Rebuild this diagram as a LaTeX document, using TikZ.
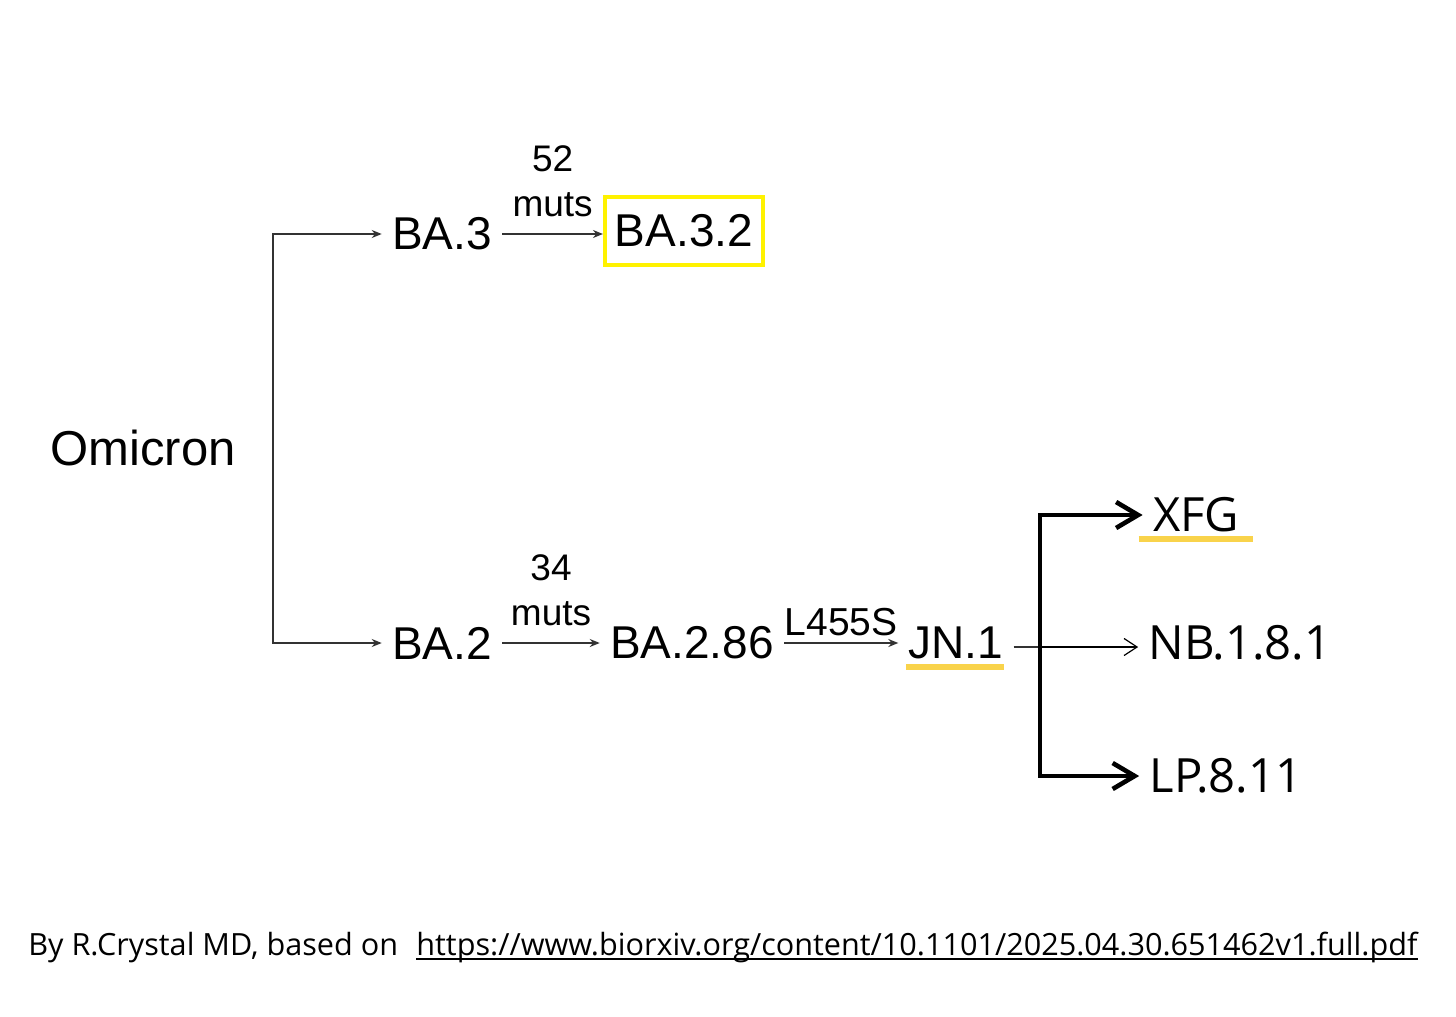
\documentclass[tikz,border=0pt]{standalone}
\usepackage{fontspec}
\setmainfont{Liberation Sans}
\newfontfamily\canva{Open Sans}
\usetikzlibrary{arrows.meta,positioning}
\definecolor{boxy}{HTML}{FFF200}
\definecolor{mark}{HTML}{F9D34B}
\definecolor{ln}{HTML}{333333}

\begin{document}
\begin{tikzpicture}[x=0.5pt,y=-0.5pt,
  var/.style={inner xsep=5pt,inner ysep=0pt,font=\fontsize{23}{28}\selectfont},
  late/.style={inner xsep=5pt,inner ysep=0pt,font=\canva\fontsize{23.6}{29}\selectfont},
  muts/.style={align=center,inner sep=0pt,font=\fontsize{18.5}{22.5}\selectfont},
  arr/.style={draw=ln,line width=0.8pt,-{Stealth[length=5pt,width=4pt]}},
  thinarr/.style={line width=0.6pt,-{Straight Barb[length=6.5pt,width=8.5pt]}},
  fat/.style={line width=2.3pt,-{Straight Barb[length=11pt,width=13pt]}},
  hl/.style={draw=mark,line width=3pt}]
\useasboundingbox (0,0) rectangle (1456,1017);

\node[var,font=\fontsize{24.5}{29}\selectfont] (omicron) at (143,448) {Omicron};
\coordinate (fork) at (273,447);
\node[var] (ba3) at (442,234) {BA.3};
\node[var,draw=boxy,line width=2pt,minimum width=78pt,minimum height=34pt] (ba32) at (684,231) {BA.3.2};
\node[var] (ba2) at (442,643) {BA.2};
\node[var] (ba286) at (692,643) {BA.2.86};
\node[var] (jn1) at (956,643) {JN.1};
\coordinate (jn) at (1040,647);
\node[late] (xfg) at (1196,515) {XFG};
\node[late] (nb181) at (1240,643) {NB.1.8.1};
\node[late] (lp811) at (1226,776) {LP.8.11};

% omicron split
\draw[arr] (fork) |- (ba3);
\draw[arr] (fork) |- (ba2);
\draw[arr] (ba3) -- node[muts,above=8pt] {52\\muts} (ba3 -| ba32.west);
\draw[arr] (ba2) -- node[muts,above=8pt] {34\\muts} (ba286);
\draw[arr] (ba286) -- node[muts,above=3pt,font=\fontsize{19.5}{24}\selectfont] {L455S} (jn1);

% JN.1 offspring
\draw[ln,line width=0.6pt] (jn1.east |- jn) -- (jn);
\draw[fat] (jn) |- (xfg);
\draw[fat] (jn) |- (lp811);
\draw[thinarr] (jn) -- (jn -| nb181.west);
\draw[hl] ([xshift=4pt,yshift=-4pt]jn1.base west) -- ([xshift=-5pt,yshift=-4pt]jn1.base east);
\draw[hl] ([xshift=-2pt,yshift=-3.5pt]xfg.base west) -- ([xshift=2pt,yshift=-3.5pt]xfg.base east);

\node[anchor=base west,inner sep=0pt,font=\canva\fontsize{15.3}{19}\selectfont] (credit) at (28,955) {By R.Crystal MD, based on};
\node[anchor=base west,inner sep=0pt,font=\canva\fontsize{15.3}{19}\selectfont] (src) at (416,955)
  {https://www.biorxiv.org/content/10.1101/2025.04.30.651462v1.full.pdf};
\draw[line width=0.6pt] ([yshift=-2pt]src.base west) -- ([yshift=-2pt]src.base east);
\end{tikzpicture}
\end{document}
